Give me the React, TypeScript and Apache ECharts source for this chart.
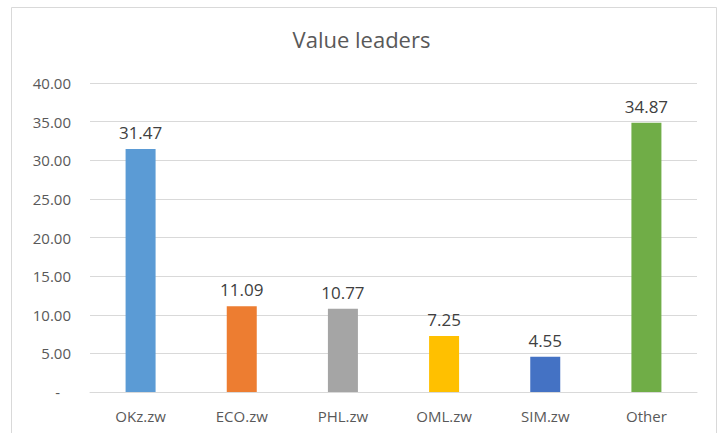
import React, { useEffect, useRef } from "react";
import * as echarts from "echarts";

const categories = ["OKz.zw", "ECO.zw", "PHL.zw", "OML.zw", "SIM.zw", "Other"];
const values = [31.47, 11.09, 10.77, 7.25, 4.55, 34.87];
const barColors = ["#5B9BD5", "#ED7D31", "#A5A5A5", "#FFC000", "#4472C4", "#70AD47"];
const titleText = "Value leaders";

export default function App() {
  const ref = useRef<HTMLDivElement>(null);
  useEffect(() => {
    if (!ref.current) return;
    const chart = echarts.init(ref.current, null, { renderer: "svg" });
    const font = "'Open Sans', 'Noto Sans', sans-serif";
    chart.setOption({
      animation: false,
      backgroundColor: "#ffffff",
      textStyle: { fontFamily: font },
      title: {
        text: titleText,
        left: "center",
        top: 23,
        textStyle: { fontFamily: font, fontSize: 22, fontWeight: "normal", color: "#595959" },
      },
      graphic: [
        {
          type: "rect",
          shape: { x: 11.5, y: 7.5, width: 705, height: 440 },
          style: { fill: "none", stroke: "#d9d9d9", lineWidth: 1 },
          silent: true,
        },
      ],
      grid: { left: 90, right: 26, top: 83, bottom: 41, containLabel: false },
      xAxis: {
        type: "category",
        data: categories,
        axisLine: { show: true, lineStyle: { color: "#d9d9d9", width: 1 } },
        axisTick: { show: false },
        axisLabel: { color: "#595959", fontSize: 15, margin: 16, fontFamily: font },
      },
      yAxis: {
        type: "value",
        min: 0,
        max: 40,
        interval: 5,
        axisLine: { show: false },
        axisTick: { show: false },
        splitLine: { lineStyle: { color: "#d9d9d9", width: 1 } },
        axisLabel: {
          color: "#595959",
          fontSize: 15,
          margin: 19,
          fontFamily: font,
          formatter: (v: number) => (v === 0 ? "{d|-}" : v.toFixed(2)),
          rich: { d: { color: "#595959", fontSize: 15, fontFamily: font, padding: [0, 11, 0, 0] } },
        },
      },
      series: [
        {
          type: "bar",
          barWidth: 30,
          data: values.map((v, i) => ({ value: v, itemStyle: { color: barColors[i] } })),
          label: {
            show: true,
            position: "top",
            distance: 8,
            color: "#404040",
            fontSize: 17,
            fontFamily: font,
            formatter: (p: any) => Number(p.value).toFixed(2),
          },
        },
      ],
    });
    return () => chart.dispose();
  }, []);
  return (
    <div
      ref={ref}
      style={{ position: "fixed", left: 0, top: 0, width: 723, height: 433 }}
    />
  );
}
